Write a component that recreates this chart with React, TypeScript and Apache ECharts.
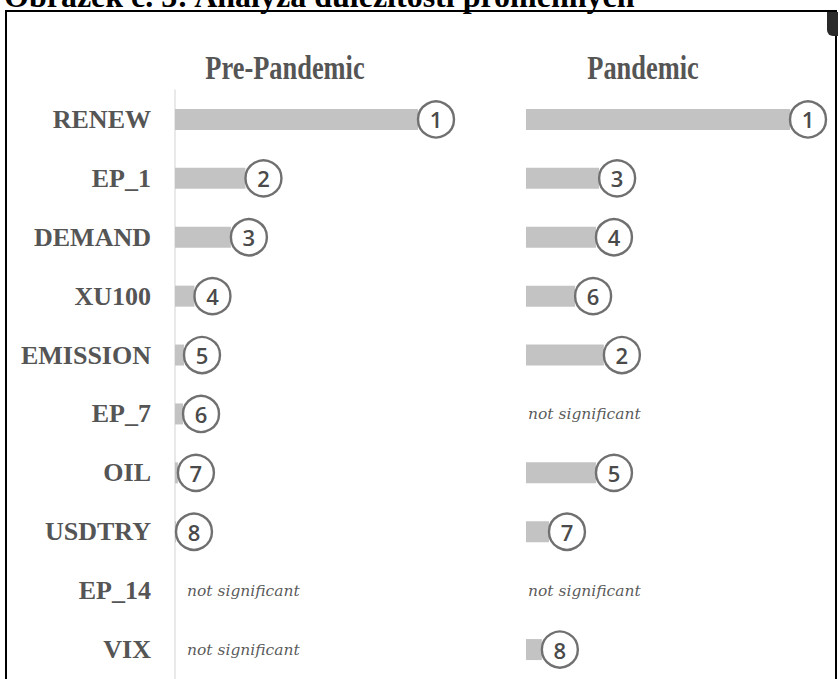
import React, { useEffect, useRef } from "react";
import * as echarts from "echarts";

const figureTitle = "Obrázek č. 3: Analýza důležitosti proměnných";
const panelTitles = ["Pre-Pandemic", "Pandemic"];
const categories = ["RENEW", "EP_1", "DEMAND", "XU100", "EMISSION", "EP_7", "OIL", "USDTRY", "EP_14", "VIX"];
const preImportance: (number | null)[] = [100, 29, 23, 8, 3.7, 3.3, 1.2, 0.4, null, null];
const pandemicImportance: (number | null)[] = [100, 27.7, 26.5, 18.6, 29.5, null, 26.5, 8.7, null, 6];
const preRank: (number | null)[] = [1, 2, 3, 4, 5, 6, 7, 8, null, null];
const pandemicRank: (number | null)[] = [1, 3, 4, 6, 2, null, 5, 7, null, 8];
const notSignificantText = "not significant";

const SERIF = "'Liberation Serif', 'Times New Roman', serif";
const R = 18;

function circleData(values: (number | null)[], ranks: (number | null)[]) {
  const out: any[] = [];
  values.forEach((v, i) => {
    if (v !== null && ranks[i] !== null) out.push({ value: [v, categories[i]], rank: ranks[i] });
  });
  return out;
}
function nsData(values: (number | null)[]) {
  const out: any[] = [];
  values.forEach((v, i) => {
    if (v === null) out.push([0, categories[i]]);
  });
  return out;
}

function panelSeries(idx: number, values: (number | null)[], ranks: (number | null)[], nsDist: number) {
  return [
    {
      type: "bar",
      xAxisIndex: idx,
      yAxisIndex: idx,
      data: values,
      barWidth: 21,
      itemStyle: { color: "#c3c3c3" },
      silent: true,
    },
    {
      type: "scatter",
      xAxisIndex: idx,
      yAxisIndex: idx,
      data: circleData(values, ranks),
      symbol: "circle",
      symbolSize: 2 * R,
      symbolOffset: [R, 0],
      itemStyle: { color: "#ffffff", borderColor: "#707070", borderWidth: 2.4, opacity: 1 },
      label: {
        show: true,
        position: "inside",
        formatter: (p: any) => String(p.data.rank),
        fontFamily: "'Open Sans', sans-serif",
        fontWeight: 600,
        fontSize: 22,
        color: "#4a4a4a",
      },
      z: 5,
      silent: true,
    },
    {
      type: "scatter",
      xAxisIndex: idx,
      yAxisIndex: idx,
      data: nsData(values),
      symbolSize: 0,
      label: {
        show: true,
        position: "right",
        distance: nsDist,
        formatter: notSignificantText,
        fontFamily: "'DejaVu Serif', serif",
        fontStyle: "italic",
        fontSize: 15.5,
        color: "#2e2e2e",
      },
      silent: true,
    },
  ];
}

export default function App() {
  const ref = useRef<HTMLDivElement>(null);
  useEffect(() => {
    if (!ref.current) return;
    const chart = echarts.init(ref.current, undefined, { renderer: "svg" });
    const option: any = {
      animation: false,
      backgroundColor: "#ffffff",
      grid: [
        { left: 175, top: 90, width: 243, height: 592 },
        { left: 526, top: 90, width: 264, height: 592 },
      ],
      xAxis: [
        { type: "value", gridIndex: 0, min: 0, max: 100, show: false },
        { type: "value", gridIndex: 1, min: 0, max: 100, show: false },
      ],
      yAxis: [
        {
          type: "category",
          gridIndex: 0,
          data: categories,
          inverse: true,
          axisLine: { show: true, lineStyle: { color: "#e2e2e2", width: 1.5 } },
          axisTick: { show: false },
          axisLabel: {
            margin: 24,
            fontFamily: SERIF,
            fontWeight: "bold",
            fontSize: 26,
            color: "#555555",
          },
        },
        {
          type: "category",
          gridIndex: 1,
          data: categories,
          inverse: true,
          show: false,
        },
      ],
      series: [
        ...panelSeries(0, preImportance, preRank, 12),
        ...panelSeries(1, pandemicImportance, pandemicRank, 2),
      ],
      graphic: [
        {
          type: "text",
          x: 4,
          y: -4,
          style: {
            text: figureTitle,
            font: `bold 32px ${SERIF}`,
            fill: "#000",
            verticalAlign: "middle",
          },
        },
        {
          type: "rect",
          shape: { x: 6, y: 11, width: 830, height: 720 },
          style: { fill: "none", stroke: "#000", lineWidth: 2 },
        },
        {
          type: "rect",
          shape: { x: 827, y: 12, width: 11, height: 24, r: [0, 0, 0, 6] },
          style: { fill: "#2a2a2a" },
        },
        {
          type: "text",
          x: 285,
          y: 67,
          scaleX: 0.8,
          style: {
            text: panelTitles[0],
            font: `bold 33px ${SERIF}`,
            fill: "#555555",
            align: "center",
            verticalAlign: "middle",
          },
        },
        {
          type: "text",
          x: 643,
          y: 67,
          scaleX: 0.8,
          style: {
            text: panelTitles[1],
            font: `bold 33px ${SERIF}`,
            fill: "#555555",
            align: "center",
            verticalAlign: "middle",
          },
        },
      ],
    };
    chart.setOption(option);
    return () => chart.dispose();
  }, []);
  return (
    <div
      ref={ref}
      style={{ position: "absolute", left: 0, top: 0, width: 840, height: 679 }}
    />
  );
}
